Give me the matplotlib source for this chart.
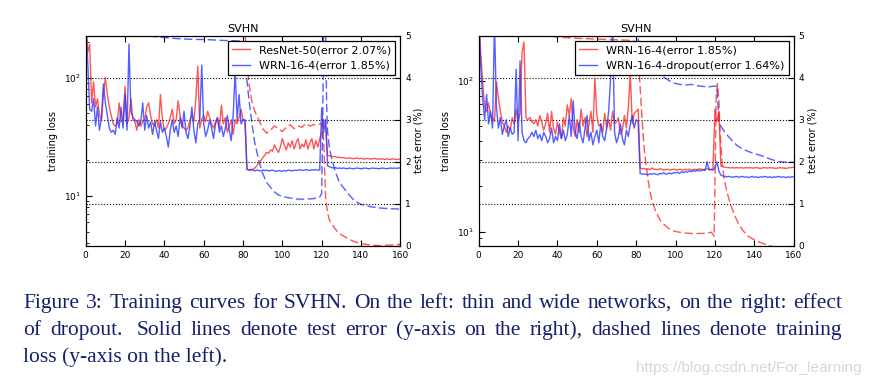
import numpy as np
import matplotlib
matplotlib.use('Agg')
import matplotlib.pyplot as plt
from matplotlib.ticker import NullFormatter

plt.rcParams['font.family'] = ['DejaVu Sans']

# ---- left panel: thin vs wide (test error per epoch, %) ----
resnet50_err = [
    5.4, 4.6, 4.8, 3.4, 3.9, 3.3, 3.5, 3.1, 3.0, 3.6,
    4.0, 3.6, 3.3, 3.1, 2.9, 2.85, 2.9, 3.4, 2.95, 3.0,
    3.8, 2.9, 3.05, 3.5, 3.0, 2.95, 2.75, 3.0, 2.85, 2.95,
    3.0, 3.3, 3.4, 3.1, 2.9, 2.85, 3.0, 2.8, 3.6, 3.0,
    2.75, 2.8, 2.9, 3.05, 3.25, 2.9, 3.0, 3.45, 3.1, 2.9,
    2.8, 2.75, 2.8, 3.0, 3.1, 2.95, 3.5, 4.27, 2.8, 3.0,
    3.1, 2.95, 3.2, 3.05, 2.9, 2.8, 2.95, 3.05, 2.8, 3.35,
    2.9, 3.05, 2.7, 2.85, 3.0, 2.65, 3.0, 2.9, 3.05, 3.25,
    3.0, 2.95, 1.82, 1.8, 1.8, 1.82, 1.85, 1.9, 1.97, 2.02,
    2.1, 2.15, 2.22, 2.2, 2.28, 2.25, 2.4, 2.3, 2.22, 2.35,
    2.55, 2.4, 2.28, 2.45, 2.35, 2.5, 2.3, 2.45, 2.55, 2.3,
    2.42, 2.35, 2.52, 2.3, 2.45, 2.55, 2.3, 2.5, 2.35, 2.55,
    2.7, 3.0, 2.9, 2.15, 2.14, 2.13, 2.12, 2.12, 2.1, 2.11,
    2.09, 2.1, 2.09, 2.08, 2.09, 2.08, 2.07, 2.08, 2.09, 2.07,
    2.08, 2.07, 2.06, 2.08, 2.07, 2.06, 2.07, 2.08, 2.06, 2.07,
    2.06, 2.07, 2.05, 2.07, 2.06, 2.05, 2.07, 2.06, 2.05, 2.06,
    2.05]
wrn_err = [
    5.4, 4.4, 3.25, 3.2, 3.5, 2.85, 3.3, 2.75, 3.05, 3.85,
    3.4, 3.1, 2.8, 2.7, 2.75, 2.65, 3.05, 2.8, 3.3, 2.8,
    3.6, 2.75, 4.8, 3.2, 3.05, 3.0, 2.95, 2.85, 2.95, 3.4,
    2.75, 3.1, 2.8, 2.95, 2.65, 2.95, 2.75, 2.55, 2.95, 2.7,
    2.8, 2.6, 2.35, 2.75, 3.0, 2.7, 2.85, 2.6, 3.05, 2.8,
    3.2, 2.7, 2.55, 2.85, 3.3, 2.75, 2.45, 2.9, 3.0, 4.3,
    2.9, 2.6, 2.75, 3.0, 2.8, 2.55, 2.9, 3.05, 2.7, 2.85,
    2.6, 2.8, 3.1, 2.75, 2.5, 3.1, 4.18, 3.0, 3.6, 2.9,
    3.0, 3.0, 1.82, 1.8, 1.82, 1.8, 1.78, 1.8, 1.79, 1.78,
    1.8, 1.79, 1.8, 1.78, 1.79, 1.8, 1.78, 1.77, 1.79, 1.78,
    1.77, 1.79, 1.78, 1.8, 1.79, 1.78, 1.8, 1.79, 1.8, 1.81,
    1.79, 1.8, 1.81, 1.8, 1.79, 1.81, 1.8, 1.81, 1.8, 1.8,
    3.28, 2.7, 3.0, 1.9, 1.88, 1.86, 1.85, 1.86, 1.84, 1.85,
    1.84, 1.85, 1.84, 1.83, 1.85, 1.84, 1.83, 1.84, 1.85, 1.84,
    1.83, 1.84, 1.85, 1.84, 1.83, 1.84, 1.85, 1.84, 1.84, 1.83,
    1.84, 1.85, 1.84, 1.83, 1.84, 1.85, 1.84, 1.85, 1.84, 1.85,
    1.85]
# training loss (read at selected epochs)
resnet50_loss_ep = [0, 20, 40, 60, 80, 81, 82, 83, 84, 85, 86, 88, 90, 92, 94, 96, 98,
                    100, 102, 104, 106, 108, 110, 112, 114, 116, 118, 120, 121, 122,
                    123, 124, 126, 128, 130, 133, 136, 140, 145, 150, 155, 160]
resnet50_loss = [600, 450, 400, 350, 320, 250, 130, 90, 70, 58, 52, 44, 37, 34, 36, 39, 37,
                 35, 38, 40, 37, 39, 38, 41, 39, 40, 40, 41, 30, 9.5,
                 7.2, 6.2, 5.5, 5.0, 4.7, 4.4, 4.15, 3.95, 3.85, 3.8, 3.85, 3.9]
wrn_loss_ep = [0, 10, 20, 28, 30, 35, 40, 45, 50, 55, 60, 65, 70, 75, 78, 80, 81, 82, 83,
               84, 85, 86, 88, 90, 92, 94, 96, 98, 100, 104, 108, 112, 116, 119, 120,
               120.5, 121, 122, 122.5, 123, 124, 125, 127, 129, 131, 134, 137, 140,
               145, 150, 155, 160]
wrn_loss = [400, 300, 250, 232, 226, 222, 218, 214, 212, 210, 210, 208, 206, 205, 204, 190,
            140, 95, 65, 48, 36, 28, 20, 15.5, 13, 11.8, 10.8, 10.2, 9.9, 9.6, 9.4, 9.4,
            9.5, 9.8, 10.5, 40, 250, 300, 60, 35, 25, 21, 16, 13, 11.8, 10.2, 9.0, 8.5,
            8.1, 7.9, 7.8, 7.75]

# ---- right panel: effect of dropout ----
wrn164_err = [
    5.5, 4.6, 3.9, 3.3, 3.2, 3.4, 3.1, 3.05, 2.95, 3.9,
    3.5, 3.2, 2.95, 2.85, 2.7, 2.85, 2.75, 3.05, 2.9, 3.25,
    2.95, 3.15, 4.6, 4.85, 3.05, 3.0, 3.05, 2.95, 2.9, 3.0,
    2.85, 3.1, 2.95, 2.75, 2.9, 3.15, 2.7, 3.2, 2.8, 2.65,
    2.95, 2.7, 2.55, 3.05, 2.85, 3.35, 3.1, 3.5, 2.8, 2.6,
    3.0, 2.7, 3.25, 2.85, 3.05, 2.6, 2.9, 3.2, 2.7, 3.99,
    3.1, 2.85, 2.9, 2.7, 3.15, 2.8, 3.0, 2.75, 3.2, 2.9,
    2.95, 3.05, 2.65, 2.75, 3.1, 2.8, 3.3, 4.1, 2.9, 3.15,
    3.2, 3.25, 1.85, 1.83, 1.84, 1.82, 1.83, 1.81, 1.85, 1.82,
    1.82, 1.81, 1.83, 1.82, 1.8, 1.81, 1.82, 1.8, 1.81, 1.82,
    1.81, 1.8, 1.82, 1.81, 1.8, 1.82, 1.81, 1.82, 1.8, 1.81,
    1.82, 1.81, 1.83, 1.82, 1.81, 1.82, 1.83, 1.82, 1.81, 1.82,
    3.25, 2.95, 3.2, 1.9, 1.88, 1.87, 1.86, 1.86, 1.85, 1.86,
    1.85, 1.86, 1.85, 1.86, 1.85, 1.85, 1.86, 1.85, 1.86, 1.85,
    1.85, 1.86, 1.85, 1.84, 1.85, 1.86, 1.85, 1.85, 1.86, 1.85,
    1.85, 1.84, 1.85, 1.86, 1.85, 1.85, 1.84, 1.85, 1.86, 1.86,
    1.87]
dropout_err = [
    5.5, 4.3, 3.5, 3.0, 3.6, 2.9, 3.2, 2.8, 5.3, 3.3,
    2.8, 3.05, 2.65, 2.85, 3.0, 2.6, 2.8, 2.65, 2.7, 4.2,
    2.5, 4.4, 2.7, 2.5, 2.45, 2.55, 2.6, 2.7, 2.6, 2.75,
    2.55, 2.65, 2.5, 2.7, 2.6, 2.45, 2.55, 2.8, 2.45, 2.6,
    2.5, 2.9, 2.55, 2.75, 2.5, 2.65, 3.1, 2.6, 3.45, 2.7,
    2.55, 2.95, 2.6, 2.45, 2.8, 3.1, 2.5, 2.7, 2.4, 2.6,
    2.75, 2.45, 2.9, 2.6, 2.5, 2.8, 3.2, 4.0, 5.3, 2.7,
    2.45, 2.6, 2.9, 2.55, 2.4, 2.75, 2.6, 2.9, 3.1, 2.8,
    3.0, 2.95, 1.72, 1.7, 1.71, 1.7, 1.69, 1.71, 1.7, 1.72,
    1.7, 1.69, 1.72, 1.71, 1.74, 1.7, 1.72, 1.73, 1.71, 1.74,
    1.73, 1.75, 1.72, 1.76, 1.74, 1.77, 1.75, 1.78, 1.76, 1.79,
    1.77, 1.8, 1.78, 1.79, 1.81, 1.79, 2.0, 1.8, 1.82, 1.8,
    1.85, 2.0, 1.78, 1.68, 1.66, 1.65, 1.64, 1.65, 1.64, 1.63,
    1.64, 1.65, 1.63, 1.64, 1.65, 1.63, 1.64, 1.62, 1.64, 1.65,
    1.63, 1.64, 1.62, 1.64, 1.63, 1.65, 1.64, 1.63, 1.64, 1.62,
    1.64, 1.63, 1.65, 1.64, 1.63, 1.64, 1.62, 1.64, 1.63, 1.64,
    1.64]
wrn164_loss_ep = [0, 20, 30, 35, 40, 45, 50, 60, 70, 78, 80, 81, 82, 83, 84, 85, 86, 87,
                  88, 90, 92, 94, 96, 98, 100, 104, 108, 112, 116, 118, 119, 119.6, 120,
                  120.6, 121.3, 122, 122.6, 123.5, 124.5, 126, 128, 130, 132, 134, 137,
                  140, 143, 147, 150, 155, 160]
wrn164_loss = [400, 260, 215, 200, 196, 194, 192, 190, 188, 186, 180, 150, 90, 55, 36, 28,
               22, 18.5, 16, 13.5, 12, 11.2, 10.6, 10.2, 10.0, 9.8, 9.7, 9.7, 9.75, 9.9,
               9.6, 9.3, 20, 80, 96, 75, 45, 30, 23, 18.5, 15, 12.8, 11.2, 10.2, 9.3,
               8.8, 8.45, 8.1, 7.9, 7.8, 7.8]
dropout_loss_ep = [0, 30, 50, 70, 78, 80, 82, 84, 86, 88, 90, 92, 95, 97, 99, 102, 105, 108,
                   111, 114, 117, 120, 121, 121.5, 122, 123, 124.5, 126, 128.7, 131,
                   133.8, 137, 140.5, 145, 148, 152, 156, 160]
dropout_loss = [500, 330, 280, 240, 215, 205, 175, 150, 135, 125, 117, 110, 104, 100, 97,
                95, 94, 95, 93, 92, 91.5, 92.5, 92, 70, 55, 50, 46.8, 44, 40.2, 37.5,
                35.4, 34, 32.8, 31.5, 30.3, 29.2, 28.9, 28.8]

caption = [
    "Figure 3: Training curves for SVHN. On the left: thin and wide networks, on the right: effect",
    "of dropout.  Solid lines denote test error (y-axis on the right), dashed lines denote training",
    "loss (y-axis on the left).",
]

RED = '#ff2a2a'
BLUE = '#2838ff'


def panel(ax, loss_r, loss_b, err_r, err_b, names, ylim):
    ax.set_yscale('log')
    ax.plot(loss_r[0], loss_r[1], color=RED, lw=1, alpha=0.8, dashes=(6, 2.5))
    ax.plot(loss_b[0], loss_b[1], color=BLUE, lw=1, alpha=0.8, dashes=(6, 2.5))
    ax.set_xlim(0, 160)
    ax.set_ylim(*ylim)
    ax.set_xticks(range(0, 161, 20))
    ax.yaxis.set_minor_formatter(NullFormatter())
    ax.tick_params(which='both', direction='in', top=True, labelsize=6.5)
    ax.tick_params(which='major', length=4)
    ax.tick_params(which='minor', length=2)
    ax.set_ylabel('training loss', fontsize=7)
    ax.set_title('SVHN', fontsize=8, pad=3)

    ax2 = ax.twinx()
    ax2.plot(np.arange(len(err_r)), err_r, color=RED, lw=1, alpha=0.8, label=names[0])
    ax2.plot(np.arange(len(err_b)), err_b, color=BLUE, lw=1, alpha=0.8, label=names[1])
    ax2.set_ylim(0, 5)
    ax2.set_xlim(0, 160)
    ax2.set_yticks(range(6))
    ax2.tick_params(direction='in', length=4, labelsize=6.5)
    ax2.yaxis.grid(True, linestyle=':', color='black', lw=0.8)
    ax2.set_axisbelow(True)
    ax2.set_ylabel('test error (%)', fontsize=7, labelpad=2)
    leg = ax2.legend(loc='upper right', fontsize=8, fancybox=False, edgecolor='black',
                     framealpha=1, handlelength=1.6, borderaxespad=0.45)
    leg.get_frame().set_linewidth(0.9)


def justify(fig, text, x0, x1, y, **kw):
    # place words one by one so the line fills x0..x1, like the typeset caption
    toks, gaps = [], []
    for w in text.split(' '):
        if w == '':
            gaps[-1] += 0.6
        else:
            toks.append(w)
            gaps.append(1.0)
    r = fig.canvas.get_renderer()
    objs = [fig.text(x0, y, w, **kw) for w in toks]
    widths = [o.get_window_extent(r).width / fig.bbox.width for o in objs]
    unit = ((x1 - x0) - sum(widths)) / sum(gaps[:-1])
    x = x0
    for o, wd, g in zip(objs, widths, gaps):
        o.set_x(x)
        x += wd + g * unit


fig = plt.figure(figsize=(8.72, 3.9), dpi=100, facecolor='white')
ax_l = fig.add_axes([0.0983, 0.37, 0.3608, 0.5385])
ax_r = fig.add_axes([0.549, 0.37, 0.3612, 0.5385])

panel(ax_l, (resnet50_loss_ep, resnet50_loss), (wrn_loss_ep, wrn_loss),
      resnet50_err, wrn_err,
      ['ResNet-50(error 2.07%)', 'WRN-16-4(error 1.85%)'], (3.8, 226))
panel(ax_r, (wrn164_loss_ep, wrn164_loss), (dropout_loss_ep, dropout_loss),
      wrn164_err, dropout_err,
      ['WRN-16-4(error 1.85%)', 'WRN-16-4-dropout(error 1.64%)'], (8.05, 200))

cap_kw = dict(fontsize=15.5, family=['Liberation Serif'], color='#14206b', va='baseline')
justify(fig, caption[0], 0.0265, 0.966, 1 - 308 / 390, **cap_kw)
justify(fig, caption[1], 0.0265, 0.966, 1 - 335 / 390, **cap_kw)
fig.text(0.0265, 1 - 362 / 390, caption[2], **cap_kw)

fig.text(0.9885, 1 - 372 / 390, 'https://blog.csdn.net/For_learning', ha='right',
         va='baseline', fontsize=11, family=['Liberation Sans'], color='#d6d6d6')

fig.savefig('out.png', dpi=100, facecolor='white')
